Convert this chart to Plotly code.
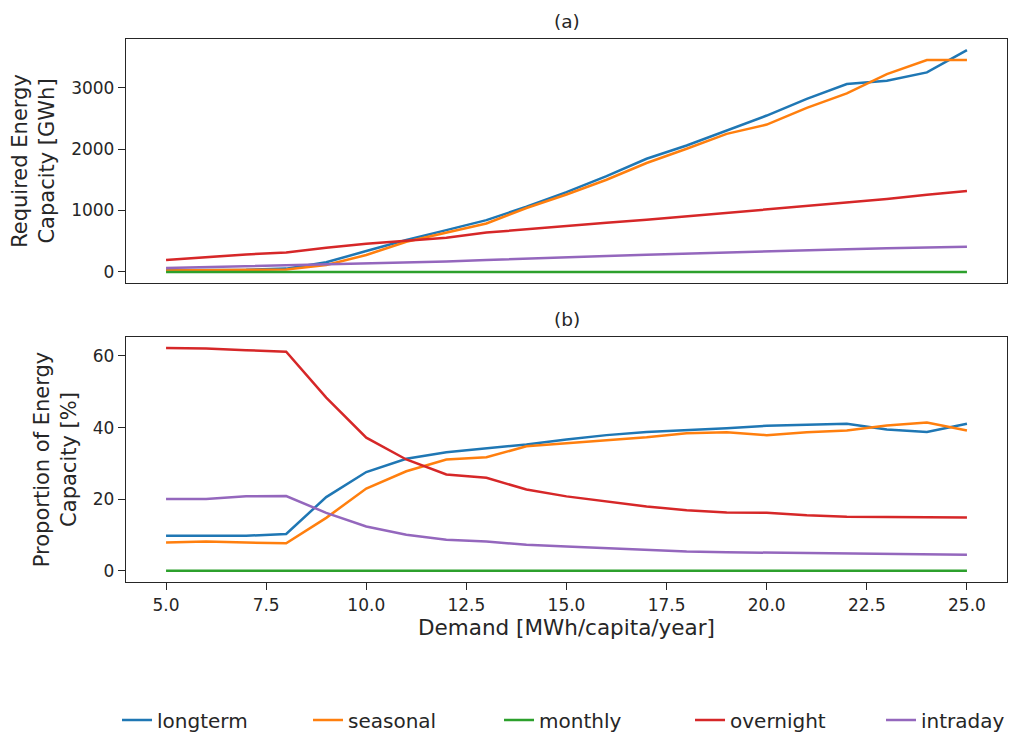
import plotly.graph_objects as go

demand = [5, 6, 7, 8, 9, 10, 11, 12, 13, 14, 15, 16, 17, 18, 19, 20, 21, 22, 23, 24, 25]

series_names = ["longterm", "seasonal", "monthly", "overnight", "intraday"]
colors = ["#1f77b4", "#ff7f0e", "#2ca02c", "#d62728", "#9467bd"]

# (a) Required energy capacity [GWh]
cap_longterm = [31, 33, 36, 54, 157, 340, 519, 680, 843, 1060, 1300, 1560, 1842, 2058, 2301, 2545, 2815, 3058, 3112, 3247, 3609]
cap_seasonal = [25, 28, 30, 40, 113, 275, 491, 637, 789, 1040, 1260, 1500, 1772, 2004, 2247, 2398, 2669, 2906, 3220, 3447, 3447]
cap_monthly = [0] * 21
cap_overnight = [195, 245, 285, 315, 395, 460, 510, 555, 640, 697, 750, 800, 850, 905, 960, 1015, 1070, 1125, 1185, 1255, 1318]
cap_intraday = [63, 78, 92, 108, 125, 140, 155, 170, 195, 220, 240, 260, 280, 300, 320, 340, 355, 370, 385, 400, 410]

# (b) Proportion of energy capacity [%]
pct_longterm = [9.8, 9.7, 9.8, 10.3, 20.6, 27.6, 31.3, 33.1, 34.2, 35.3, 36.7, 37.9, 38.8, 39.2, 39.8, 40.5, 40.9, 41.1, 39.5, 38.8, 41.1]
pct_seasonal = [7.9, 8.2, 7.9, 7.7, 14.8, 23.0, 27.8, 31.1, 31.7, 34.8, 35.6, 36.4, 37.3, 38.4, 38.7, 37.9, 38.7, 39.2, 40.6, 41.4, 39.2]
pct_monthly = [0] * 21
pct_overnight = [62.2, 62.1, 61.6, 61.2, 48.4, 37.2, 31.1, 26.9, 26.0, 22.7, 20.8, 19.4, 18.0, 16.9, 16.3, 16.2, 15.5, 15.1, 15.0, 15.0, 14.9]
pct_intraday = [20.1, 20.1, 20.8, 20.9, 16.2, 12.4, 10.1, 8.7, 8.2, 7.3, 6.8, 6.3, 5.7, 5.4, 5.2, 5.1, 4.9, 4.9, 4.8, 4.7, 4.5]

cap = [cap_longterm, cap_seasonal, cap_monthly, cap_overnight, cap_intraday]
pct = [pct_longterm, pct_seasonal, pct_monthly, pct_overnight, pct_intraday]

fig = go.Figure()
for name, c, ys in zip(series_names, colors, cap):
    fig.add_trace(go.Scatter(x=demand, y=ys, mode="lines", name=name,
                             line=dict(color=c, width=2.5), xaxis="x", yaxis="y",
                             showlegend=True))
for name, c, ys in zip(series_names, colors, pct):
    fig.add_trace(go.Scatter(x=demand, y=ys, mode="lines", name=name,
                             line=dict(color=c, width=2.5), xaxis="x2", yaxis="y2",
                             showlegend=False))

font = "DejaVu Sans, sans-serif"
ink = "#262626"
axis_common = dict(showline=True, mirror=True, linecolor=ink, linewidth=1.4,
                   showgrid=False, zeroline=False, ticklen=7, tickwidth=1.4,
                   tickcolor=ink, tickfont=dict(size=17, color=ink, family=font))

fig.update_layout(
    width=1013, height=725,
    margin=dict(l=118, r=14, t=31, b=151, autoexpand=False),
    plot_bgcolor="white", paper_bgcolor="white",
    font=dict(family=font, color=ink),
    xaxis=dict(domain=[0, 1], anchor="y", range=[4, 26], showticklabels=False,
               dtick=2.5, tick0=5, ticks="", **axis_common),
    yaxis=dict(domain=[0.5506, 1], anchor="x", range=[-180.5, 3790.5], dtick=1000,
               ticks="outside",
               title=dict(text="Required Energy<br>Capacity [GWh]", font=dict(size=21, family=font, color=ink), standoff=10),
               **axis_common),
    xaxis2=dict(domain=[0, 1], anchor="y2", range=[4, 26], dtick=2.5, tick0=5,
                tickformat=".1f", ticks="outside",
                title=dict(text="Demand [MWh/capita/year]", font=dict(size=21.5, family=font, color=ink), standoff=5),
                **axis_common),
    yaxis2=dict(domain=[0, 0.4512], anchor="x2", range=[-3.11, 65.3], dtick=20,
                ticks="outside",
                title=dict(text="Proportion of Energy<br>Capacity [%]", font=dict(size=21, family=font, color=ink), standoff=10),
                **axis_common),
    legend=dict(orientation="h", x=-0.0102, xanchor="left", y=-0.254, yanchor="middle",
                font=dict(size=20, family=font, color=ink),
                entrywidth=146, entrywidthmode="pixels", bgcolor="rgba(0,0,0,0)"),
    annotations=[
        dict(text="(a)", x=0.5, y=1, xref="paper", yref="paper", xanchor="center",
             yanchor="bottom", yshift=5, showarrow=False, font=dict(size=18.5, family=font, color=ink)),
        dict(text="(b)", x=0.5, y=0.4512, xref="paper", yref="paper", xanchor="center",
             yanchor="bottom", yshift=5, showarrow=False, font=dict(size=18.5, family=font, color=ink)),
    ],
)

fig.write_html("out.html")
